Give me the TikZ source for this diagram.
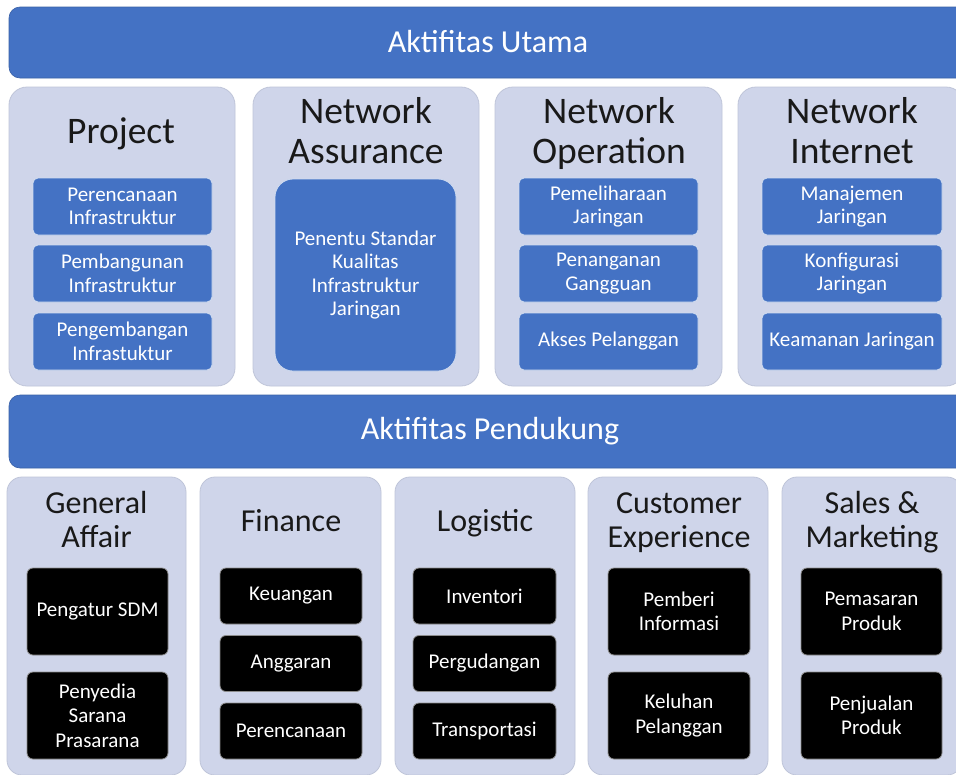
\documentclass[tikz,border=0pt]{standalone}
\usepackage{fontspec}
\setmainfont{Carlito}
\definecolor{barblue}{HTML}{4472C4}
\definecolor{panelfill}{HTML}{CFD5EA}
\definecolor{panelline}{HTML}{BFC5D9}
\begin{document}
\begin{tikzpicture}[x=1pt,y=-1pt,
  bar/.style={fill=barblue, draw=barblue!85!black, line width=0.6pt, rounded corners=11pt, inner sep=0pt},
  bartext/.style={text=white, font=\fontsize{32}{36}\selectfont, inner sep=0pt},
  panel/.style={fill=panelfill, draw=panelline, line width=0.8pt, rounded corners=18pt, inner sep=0pt},
  toptitle/.style={text=black!90, anchor=base, font=\fontsize{37.5}{40}\selectfont, inner sep=0pt},
  lowtitle/.style={text=black!90, anchor=base, font=\fontsize{32}{34}\selectfont, inner sep=0pt},
  bluebox/.style={fill=barblue, draw=white!75!barblue, line width=0.8pt, rounded corners=5pt,
    text=white, align=center, font=\fontsize{21}{23.5}\selectfont, inner sep=0pt},
  blackbox/.style={fill=black, draw=black!45, line width=0.8pt, rounded corners=6pt,
    text=white, align=center, font=\fontsize{21}{24.5}\selectfont, inner sep=0pt},
]
\useasboundingbox (0,0) rectangle (956,774);
\clip (0,0) rectangle (956,774);
\fill[white] (0,0) rectangle (956,774);

% main and support bars
\node[bar, minimum width=958pt, minimum height=71pt] (utama) at (488,42.5) {};
\node[bartext] (utamatxt) at (488,42) {Aktifitas Utama};
\node[bar, minimum width=958pt, minimum height=73pt] (dukung) at (488,431.5) {};
\node[bartext] (dukungtxt) at (490,431) {Aktifitas Pendukung};

% primary activity panels
\node[panel, minimum width=226pt, minimum height=299pt] (pproj) at (122,236.5) {};
\node[panel, minimum width=226pt, minimum height=299pt] (pna)   at (366,236.5) {};
\node[panel, minimum width=227pt, minimum height=299pt] (pno)   at (608.5,236.5) {};
\node[panel, minimum width=226pt, minimum height=299pt] (pni)   at (851,236.5) {};

% panel headings, one node per line, placed on their baselines
\node[toptitle] (tproj)  at (121,143) {Project};
\node[toptitle] (tna1)   at (366,123) {Network};
\node[toptitle] (tna2)   at (366,163) {Assurance};
\node[toptitle] (tno1)   at (609,123) {Network};
\node[toptitle] (tno2)   at (609,163) {Operation};
\node[toptitle] (tni1)   at (852,123) {Network};
\node[toptitle] (tni2)   at (852,163) {Internet};

% Project
\node[bluebox, minimum width=179pt, minimum height=57pt] (pr1) at (122.5,206.5) {Perencanaan\\Infrastruktur};
\node[bluebox, minimum width=179pt, minimum height=57pt] (pr2) at (122.5,273.5) {Pembangunan\\Infrastruktur};
\node[bluebox, minimum width=179pt, minimum height=57pt] (pr3) at (122.5,341.5) {Pengembangan\\Infrastuktur};

% Network Assurance
\node[bluebox, rounded corners=18pt, minimum width=181pt, minimum height=192pt] (na1) at (365.5,275)
  {Penentu Standar\\Kualitas\\Infrastruktur\\Jaringan};

% Network Operation
\node[bluebox, minimum width=179pt, minimum height=57pt] (no1) at (608.5,206.5) {Pemeliharaan\\Jaringan};
\node[bluebox, minimum width=179pt, minimum height=57pt] (no2) at (608.5,273.5) {Penanganan\\Gangguan};
\node[bluebox, minimum width=179pt, minimum height=57pt] (no3) at (608.5,341.5) {Akses Pelanggan};

% Network Internet
\node[bluebox, minimum width=180pt, minimum height=57pt] (ni1) at (852,206.5) {Manajemen\\Jaringan};
\node[bluebox, minimum width=180pt, minimum height=57pt] (ni2) at (852,273.5) {Konfigurasi\\Jaringan};
\node[bluebox, minimum width=180pt, minimum height=57pt] (ni3) at (852,341.5) {Keamanan Jaringan};

% support activity panels
\node[panel, rounded corners=15pt, minimum width=179pt, minimum height=298pt] (pga)  at (96.5,626) {};
\node[panel, rounded corners=15pt, minimum width=181pt, minimum height=298pt] (pfin) at (290.5,626) {};
\node[panel, rounded corners=15pt, minimum width=180pt, minimum height=298pt] (plog) at (485,626) {};
\node[panel, rounded corners=15pt, minimum width=180pt, minimum height=298pt] (pce)  at (678,626) {};
\node[panel, rounded corners=15pt, minimum width=180pt, minimum height=298pt] (psm)  at (872,626) {};

\node[lowtitle] (tga1) at (96.5,513) {General};
\node[lowtitle] (tga2) at (96.5,547) {Affair};
\node[lowtitle] (tfin) at (291,531) {Finance};
\node[lowtitle] (tlog) at (485,531) {Logistic};
\node[lowtitle] (tce1) at (679,513) {Customer};
\node[lowtitle] (tce2) at (679,547) {Experience};
\node[lowtitle] (tsm1) at (872,513) {Sales \&};
\node[lowtitle] (tsm2) at (872,547) {Marketing};

% General Affair
\node[blackbox, minimum width=141pt, minimum height=87pt] (ga1) at (97.5,611.5) {Pengatur SDM};
\node[blackbox, minimum width=141pt, minimum height=87pt] (ga2) at (97.5,715.5) {Penyedia\\Sarana\\Prasarana};

% Finance
\node[blackbox, minimum width=142pt, minimum height=56pt] (fi1) at (291,596) {Keuangan};
\node[blackbox, minimum width=142pt, minimum height=56pt] (fi2) at (291,663.5) {Anggaran};
\node[blackbox, minimum width=142pt, minimum height=56pt] (fi3) at (291,731) {Perencanaan};

% Logistic
\node[blackbox, minimum width=143pt, minimum height=56pt] (lo1) at (484.5,596) {Inventori};
\node[blackbox, minimum width=143pt, minimum height=56pt] (lo2) at (484.5,663.5) {Pergudangan};
\node[blackbox, minimum width=143pt, minimum height=56pt] (lo3) at (484.5,731) {Transportasi};

% Customer Experience
\node[blackbox, minimum width=142pt, minimum height=87pt] (ce1) at (679,611.5) {Pemberi\\Informasi};
\node[blackbox, minimum width=142pt, minimum height=87pt] (ce2) at (679,715.5) {Keluhan\\Pelanggan};

% Sales & Marketing
\node[blackbox, minimum width=141pt, minimum height=87pt] (sm1) at (871.5,611.5) {Pemasaran\\Produk};
\node[blackbox, minimum width=141pt, minimum height=87pt] (sm2) at (871.5,715.5) {Penjualan\\Produk};
\end{tikzpicture}
\end{document}
